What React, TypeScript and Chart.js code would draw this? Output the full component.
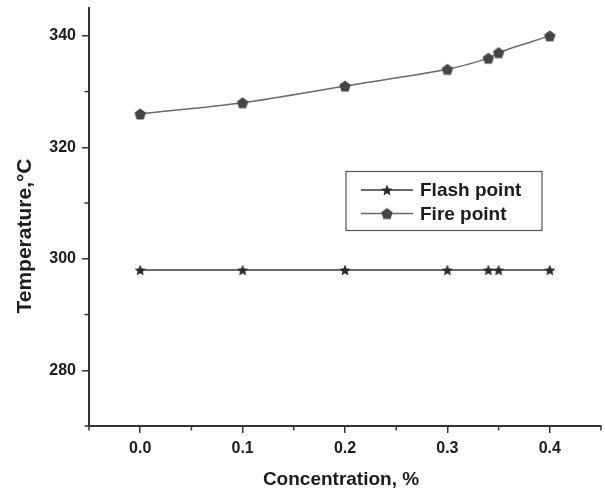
import React, { useEffect, useRef } from "react";
import { Chart, registerables } from "chart.js";

Chart.register(...registerables);

const concentration = [0, 0.1, 0.2, 0.3, 0.34, 0.35, 0.4];
const flashPoint = [298, 298, 298, 298, 298, 298, 298];
const firePoint = [326, 328, 331, 334, 336, 337, 340];
const xTicks = [0, 0.1, 0.2, 0.3, 0.4];
const xMinorTicks = [-0.05, 0.05, 0.15, 0.25, 0.35, 0.45];
const yTicks = [280, 300, 320, 340];
const yMinorTicks = [270, 290, 310, 330];
const seriesNames = ["Flash point", "Fire point"];
const xTitle = "Concentration, %";
const yTitle = "Temperature,°C";

const FONT = '"Liberation Sans", Arial, Helvetica, sans-serif';

function makeStar(r: number, color: string): HTMLCanvasElement {
  const size = Math.ceil(r * 2 + 2);
  const c = document.createElement("canvas");
  c.width = size;
  c.height = size;
  const g = c.getContext("2d")!;
  const cx = size / 2;
  const cy = size / 2 + r * 0.1;
  g.beginPath();
  for (let i = 0; i < 10; i++) {
    const rr = i % 2 === 0 ? r : r * 0.45;
    const a = -Math.PI / 2 + (i * Math.PI) / 5;
    const px = cx + rr * Math.cos(a);
    const py = cy + rr * Math.sin(a);
    if (i === 0) g.moveTo(px, py);
    else g.lineTo(px, py);
  }
  g.closePath();
  g.fillStyle = color;
  g.fill();
  return c;
}

function makePentagon(r: number, color: string): HTMLCanvasElement {
  const size = Math.ceil(r * 2 + 2);
  const c = document.createElement("canvas");
  c.width = size;
  c.height = size;
  const g = c.getContext("2d")!;
  const cx = size / 2;
  const cy = size / 2 + r * 0.1;
  g.beginPath();
  for (let i = 0; i < 5; i++) {
    const a = -Math.PI / 2 + (i * 2 * Math.PI) / 5;
    const px = cx + r * Math.cos(a);
    const py = cy + r * Math.sin(a);
    if (i === 0) g.moveTo(px, py);
    else g.lineTo(px, py);
  }
  g.closePath();
  g.fillStyle = color;
  g.fill();
  return c;
}

export default function App() {
  const ref = useRef<HTMLCanvasElement>(null);

  useEffect(() => {
    const star = makeStar(6, "#2a2a2a");
    const pent = makePentagon(6, "#454545");

    const decor = {
      id: "decor",
      afterDraw(chart: any) {
        const { ctx, chartArea } = chart;
        const xs = chart.scales.x;
        const ys = chart.scales.y;
        ctx.save();
        ctx.strokeStyle = "#333";
        ctx.lineWidth = 1.5;
        xMinorTicks.forEach((v) => {
          const px = xs.getPixelForValue(v);
          ctx.beginPath();
          ctx.moveTo(px, chartArea.bottom);
          ctx.lineTo(px, chartArea.bottom + 4.5);
          ctx.stroke();
        });
        yMinorTicks.forEach((v) => {
          const py = ys.getPixelForValue(v);
          ctx.beginPath();
          ctx.moveTo(chartArea.left, py);
          ctx.lineTo(chartArea.left - 4.5, py);
          ctx.stroke();
        });

        // axis titles
        ctx.fillStyle = "#1c1c1c";
        ctx.textAlign = "center";
        ctx.textBaseline = "middle";
        ctx.font = `bold 19px ${FONT}`;
        ctx.fillText(xTitle, 341, 480);
        ctx.save();
        ctx.translate(25, 236);
        ctx.rotate(-Math.PI / 2);
        ctx.font = `bold 21px ${FONT}`;
        ctx.fillText(yTitle, 0, 0);
        ctx.restore();

        // legend
        ctx.strokeStyle = "#555";
        ctx.lineWidth = 1.2;
        ctx.strokeRect(346, 171.5, 196, 59);
        const rows = [
          { y: 190, color: "#3a3a3a", img: star },
          { y: 213.5, color: "#6a6a6a", img: pent },
        ];
        rows.forEach((r, i) => {
          ctx.strokeStyle = r.color;
          ctx.lineWidth = 1.5;
          ctx.beginPath();
          ctx.moveTo(361, r.y);
          ctx.lineTo(413, r.y);
          ctx.stroke();
          ctx.drawImage(r.img, 387 - r.img.width / 2, r.y - r.img.height / 2);
          ctx.fillStyle = "#1c1c1c";
          ctx.textAlign = "left";
          ctx.textBaseline = "middle";
          ctx.font = `bold 19px ${FONT}`;
          ctx.fillText(seriesNames[i], 420, r.y + 1);
        });
        ctx.restore();
      },
    };

    const chart = new Chart(ref.current!, {
      type: "line",
      data: {
        datasets: [
          {
            label: seriesNames[0],
            data: concentration.map((x, i) => ({ x, y: flashPoint[i] })),
            borderColor: "#3a3a3a",
            borderWidth: 1.5,
            pointStyle: star as any,
            pointRadius: 5,
            tension: 0,
          },
          {
            label: seriesNames[1],
            data: concentration.map((x, i) => ({ x, y: firePoint[i] })),
            borderColor: "#6a6a6a",
            borderWidth: 1.5,
            pointStyle: pent as any,
            pointRadius: 5,
            tension: 0.3,
          },
        ],
      },
      options: {
        animation: false,
        responsive: false,
        devicePixelRatio: 1,
        layout: { autoPadding: false, padding: { top: 8, right: 4, left: 0, bottom: 0 } },
        plugins: {
          legend: { display: false },
          tooltip: { enabled: false },
          title: { display: false },
        },
        scales: {
          x: {
            type: "linear",
            min: -0.05,
            max: 0.45,
            afterBuildTicks: (s: any) => {
              s.ticks = xTicks.map((v) => ({ value: v }));
            },
            afterFit: (s: any) => {
              s.height = 65;
              s.paddingLeft = 0;
              s.paddingRight = 0;
            },
            ticks: {
              callback: (v: any) => Number(v).toFixed(1),
              font: { family: FONT, size: 16, weight: "bold" },
              color: "#1c1c1c",
              padding: 6,
              maxRotation: 0,
              autoSkip: false,
            },
            grid: {
              drawOnChartArea: false,
              drawTicks: true,
              tickLength: 7,
              color: "#333",
              lineWidth: 1.5,
            },
            border: { color: "#333", width: 2 },
          },
          y: {
            type: "linear",
            min: 270,
            max: 345,
            afterBuildTicks: (s: any) => {
              s.ticks = yTicks.map((v) => ({ value: v }));
            },
            afterFit: (s: any) => {
              s.width = 89;
              s.paddingTop = 0;
              s.paddingBottom = 0;
            },
            ticks: {
              callback: (v: any) => String(v),
              font: { family: FONT, size: 16, weight: "bold" },
              color: "#1c1c1c",
              padding: 6,
              autoSkip: false,
            },
            grid: {
              drawOnChartArea: false,
              drawTicks: true,
              tickLength: 7,
              color: "#333",
              lineWidth: 1.5,
            },
            border: { color: "#333", width: 2 },
          },
        },
      },
      plugins: [decor],
    } as any);

    return () => chart.destroy();
  }, []);

  return (
    <div style={{ position: "absolute", left: 0, top: 0, width: 605, height: 491 }}>
      <canvas ref={ref} width={605} height={491} style={{ display: "block" }} />
    </div>
  );
}
